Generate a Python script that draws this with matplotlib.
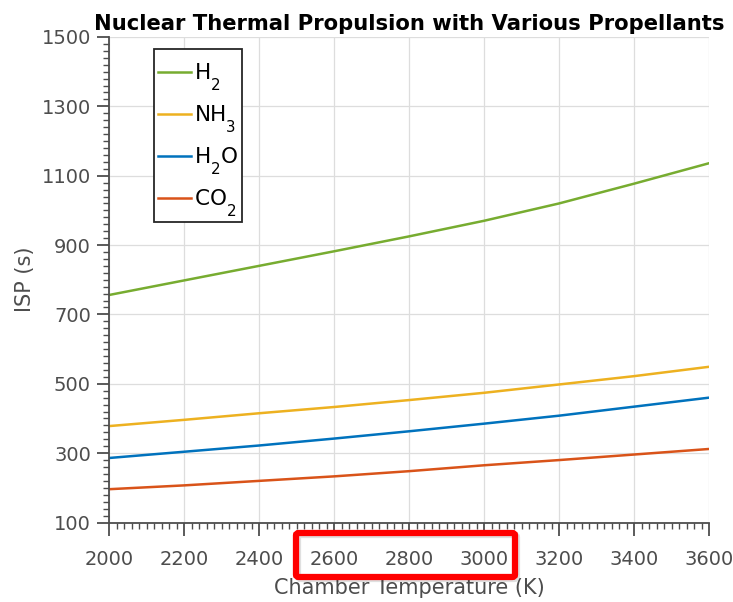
import matplotlib
matplotlib.use("Agg")
import matplotlib.pyplot as plt
from matplotlib.patches import FancyBboxPatch, Rectangle
from matplotlib.ticker import MultipleLocator
from matplotlib.transforms import IdentityTransform

try:
    import matplotlib._mathtext as _mt
    _mt.DejaVuSansFontConstants.sub1 = 0.95
except Exception:
    pass

plt.rcParams['font.family'] = ['DejaVu Sans']
plt.rcParams['mathtext.fontset'] = 'dejavusans'

temperature = [2000, 2200, 2400, 2600, 2800, 3000, 3200, 3400, 3600]
isp_h2 = [756, 798, 840, 882, 925, 970, 1020, 1077, 1136]
isp_nh3 = [378, 396, 415, 433, 453, 474, 498, 522, 549]
isp_h2o = [286, 304, 322, 342, 363, 385, 408, 434, 460]
isp_co2 = [196, 207, 220, 233, 248, 265, 280, 296, 312]

labels = [r'H$_2$', r'NH$_3$', r'H$_2$O', r'CO$_2$']
colors = ['#77AC30', '#EDB120', '#0072BD', '#D95319']
xticks = [2000, 2200, 2400, 2600, 2800, 3000, 3200, 3400, 3600]
yticks = [100, 300, 500, 700, 900, 1100, 1300, 1500]

W, H = 733, 602
fig = plt.figure(figsize=(W / 100, H / 100), dpi=100)
ax = fig.add_axes([109 / W, 1 - 522.5 / H, 600 / W, 485.5 / H])

axcol = '#4d4d4d'
for series, lab, col in zip([isp_h2, isp_nh3, isp_h2o, isp_co2], labels, colors):
    ax.plot(temperature, series, color=col, lw=1.8, label=lab)

ax.set_xlim(2000, 3600)
ax.set_ylim(100, 1500)
ax.set_xticks(xticks)
ax.set_yticks(yticks)
ax.xaxis.set_minor_locator(MultipleLocator(20))
ax.yaxis.set_minor_locator(MultipleLocator(20))
ax.grid(True, which='major', color='#dddddd', lw=0.9)
ax.set_axisbelow(True)
for s in ['top', 'right']:
    ax.spines[s].set_visible(False)
for s in ['left', 'bottom']:
    ax.spines[s].set_color(axcol)
    ax.spines[s].set_linewidth(1.3)
ax.tick_params(which='major', direction='out', length=9, width=1.3, color=axcol,
               labelcolor=axcol, labelsize=14)
ax.tick_params(axis='x', which='major', pad=10.5)
ax.tick_params(axis='y', which='major', pad=4)
ax.tick_params(which='minor', direction='out', length=4.5, width=1.0, color=axcol)

ax.set_xlabel('Chamber Temperature (K)', fontsize=15, color=axcol, labelpad=7)
ax.set_ylabel('ISP (s)', fontsize=15, color=axcol, labelpad=5)
ax.set_title('Nuclear Thermal Propulsion with Various Propellants', fontsize=15.2,
             fontweight='bold', color='black', pad=5)

# legend content placed inside a hand-sized frame (MATLAB style)
leg = ax.legend(loc='upper left', bbox_to_anchor=(158 / W, 1 - 62 / H),
                bbox_transform=fig.transFigure,
                fontsize=15.5, frameon=False, handlelength=1.55,
                handletextpad=0.1, borderpad=0.0, labelspacing=0.48,
                borderaxespad=0)
leg.set_zorder(6)
for t in leg.get_texts():
    t.set_color('black')
fig.canvas.draw()
bb = leg.get_window_extent()
frame = Rectangle((bb.x0 - 4, bb.y0 - 3), bb.width + 8, bb.height + 16,
                  transform=IdentityTransform(), fill=True, facecolor='white',
                  edgecolor='#262626', lw=1.3, zorder=5, clip_on=False)
ax.add_artist(frame)

# red highlight box around tick labels (annotation)
shadow = FancyBboxPatch((298 / W, 1 - 579 / H), 219 / W, 44 / H,
                        boxstyle='round,pad=0,rounding_size=0.004',
                        transform=fig.transFigure, fill=False, lw=4.5,
                        edgecolor='#000000', alpha=0.12, zorder=9)
fig.patches.append(shadow)
box = FancyBboxPatch((296 / W, 1 - 577 / H), 219 / W, 44 / H,
                     boxstyle='round,pad=0,rounding_size=0.004',
                     transform=fig.transFigure, fill=False, lw=4.5,
                     edgecolor='#ff0000', zorder=10)
fig.patches.append(box)

fig.savefig('out.png', dpi=100)
